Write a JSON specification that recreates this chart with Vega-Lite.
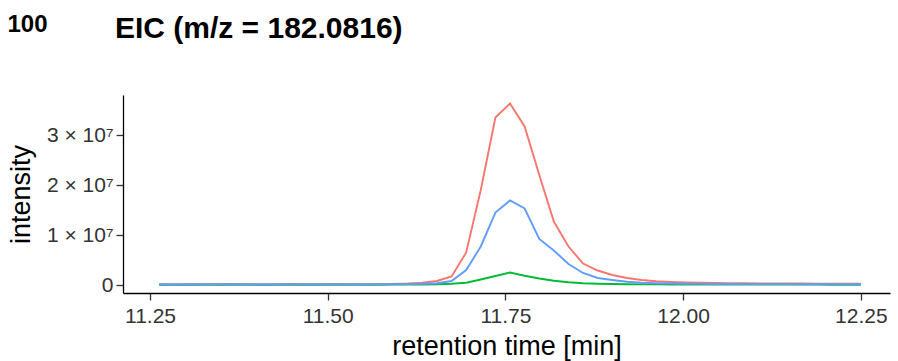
{
  "$schema": "https://vega.github.io/schema/vega-lite/v6.json",
  "width": 767,
  "height": 198,
  "autosize": {"type": "none"},
  "padding": {"left": 123, "top": 95, "right": 8, "bottom": 68},
  "background": "white",
  "title": {
    "text": "100",
    "subtitle": "\u200b\u2003\u2003\u2003\u2002\u200aEIC (m/z = 182.0816)",
    "anchor": "start",
    "frame": "bounds",
    "font": "Liberation Sans",
    "fontSize": 24,
    "fontWeight": "bold",
    "color": "black",
    "subtitleFont": "Liberation Sans",
    "subtitleFontSize": 30,
    "subtitleFontWeight": "bold",
    "subtitleColor": "black",
    "subtitlePadding": -23,
    "offset": 51
  },
  "data": {
    "values": [
      {"t": 11.263, "s": "s1", "v": 150000}, {"t": 11.2836, "s": "s1", "v": 120000}, {"t": 11.3041, "s": "s1", "v": 180000}, {"t": 11.3247, "s": "s1", "v": 160000}, {"t": 11.3452, "s": "s1", "v": 140000}, {"t": 11.3658, "s": "s1", "v": 200000}, {"t": 11.3864, "s": "s1", "v": 170000}, {"t": 11.4069, "s": "s1", "v": 130000}, {"t": 11.4275, "s": "s1", "v": 150000}, {"t": 11.448, "s": "s1", "v": 190000}, {"t": 11.4686, "s": "s1", "v": 160000}, {"t": 11.4892, "s": "s1", "v": 140000}, {"t": 11.5097, "s": "s1", "v": 210000}, {"t": 11.5303, "s": "s1", "v": 180000}, {"t": 11.5508, "s": "s1", "v": 150000}, {"t": 11.5714, "s": "s1", "v": 170000}, {"t": 11.592, "s": "s1", "v": 230000}, {"t": 11.6125, "s": "s1", "v": 300000}, {"t": 11.6331, "s": "s1", "v": 450000}, {"t": 11.6536, "s": "s1", "v": 800000}, {"t": 11.6742, "s": "s1", "v": 1700000}, {"t": 11.6948, "s": "s1", "v": 6500000}, {"t": 11.7153, "s": "s1", "v": 19000000}, {"t": 11.7359, "s": "s1", "v": 33500000}, {"t": 11.7564, "s": "s1", "v": 36300000}, {"t": 11.777, "s": "s1", "v": 31700000}, {"t": 11.7976, "s": "s1", "v": 22000000}, {"t": 11.8181, "s": "s1", "v": 12700000}, {"t": 11.8387, "s": "s1", "v": 7700000}, {"t": 11.8592, "s": "s1", "v": 4300000}, {"t": 11.8798, "s": "s1", "v": 2900000}, {"t": 11.9004, "s": "s1", "v": 2000000}, {"t": 11.9209, "s": "s1", "v": 1400000}, {"t": 11.9415, "s": "s1", "v": 1000000}, {"t": 11.962, "s": "s1", "v": 750000}, {"t": 11.9826, "s": "s1", "v": 600000}, {"t": 12.0032, "s": "s1", "v": 500000}, {"t": 12.0237, "s": "s1", "v": 450000}, {"t": 12.0443, "s": "s1", "v": 400000}, {"t": 12.0648, "s": "s1", "v": 380000}, {"t": 12.0854, "s": "s1", "v": 350000}, {"t": 12.106, "s": "s1", "v": 330000}, {"t": 12.1265, "s": "s1", "v": 320000}, {"t": 12.1471, "s": "s1", "v": 300000}, {"t": 12.1676, "s": "s1", "v": 300000}, {"t": 12.1882, "s": "s1", "v": 280000}, {"t": 12.2088, "s": "s1", "v": 280000}, {"t": 12.2293, "s": "s1", "v": 270000}, {"t": 12.2499, "s": "s1", "v": 260000},
      {"t": 11.263, "s": "s2", "v": 50000}, {"t": 11.2836, "s": "s2", "v": 40000}, {"t": 11.3041, "s": "s2", "v": 60000}, {"t": 11.3247, "s": "s2", "v": 50000}, {"t": 11.3452, "s": "s2", "v": 50000}, {"t": 11.3658, "s": "s2", "v": 60000}, {"t": 11.3864, "s": "s2", "v": 40000}, {"t": 11.4069, "s": "s2", "v": 50000}, {"t": 11.4275, "s": "s2", "v": 60000}, {"t": 11.448, "s": "s2", "v": 50000}, {"t": 11.4686, "s": "s2", "v": 40000}, {"t": 11.4892, "s": "s2", "v": 50000}, {"t": 11.5097, "s": "s2", "v": 60000}, {"t": 11.5303, "s": "s2", "v": 50000}, {"t": 11.5508, "s": "s2", "v": 50000}, {"t": 11.5714, "s": "s2", "v": 60000}, {"t": 11.592, "s": "s2", "v": 70000}, {"t": 11.6125, "s": "s2", "v": 80000}, {"t": 11.6331, "s": "s2", "v": 100000}, {"t": 11.6536, "s": "s2", "v": 150000}, {"t": 11.6742, "s": "s2", "v": 250000}, {"t": 11.6948, "s": "s2", "v": 450000}, {"t": 11.7153, "s": "s2", "v": 1100000}, {"t": 11.7359, "s": "s2", "v": 1800000}, {"t": 11.7564, "s": "s2", "v": 2500000}, {"t": 11.777, "s": "s2", "v": 1850000}, {"t": 11.7976, "s": "s2", "v": 1300000}, {"t": 11.8181, "s": "s2", "v": 850000}, {"t": 11.8387, "s": "s2", "v": 550000}, {"t": 11.8592, "s": "s2", "v": 350000}, {"t": 11.8798, "s": "s2", "v": 250000}, {"t": 11.9004, "s": "s2", "v": 200000}, {"t": 11.9209, "s": "s2", "v": 150000}, {"t": 11.9415, "s": "s2", "v": 130000}, {"t": 11.962, "s": "s2", "v": 120000}, {"t": 11.9826, "s": "s2", "v": 110000}, {"t": 12.0032, "s": "s2", "v": 100000}, {"t": 12.0237, "s": "s2", "v": 100000}, {"t": 12.0443, "s": "s2", "v": 90000}, {"t": 12.0648, "s": "s2", "v": 90000}, {"t": 12.0854, "s": "s2", "v": 80000}, {"t": 12.106, "s": "s2", "v": 80000}, {"t": 12.1265, "s": "s2", "v": 80000}, {"t": 12.1471, "s": "s2", "v": 70000}, {"t": 12.1676, "s": "s2", "v": 70000}, {"t": 12.1882, "s": "s2", "v": 70000}, {"t": 12.2088, "s": "s2", "v": 60000}, {"t": 12.2293, "s": "s2", "v": 60000}, {"t": 12.2499, "s": "s2", "v": 60000},
      {"t": 11.263, "s": "s3", "v": 100000}, {"t": 11.2836, "s": "s3", "v": 90000}, {"t": 11.3041, "s": "s3", "v": 110000}, {"t": 11.3247, "s": "s3", "v": 100000}, {"t": 11.3452, "s": "s3", "v": 120000}, {"t": 11.3658, "s": "s3", "v": 100000}, {"t": 11.3864, "s": "s3", "v": 90000}, {"t": 11.4069, "s": "s3", "v": 110000}, {"t": 11.4275, "s": "s3", "v": 100000}, {"t": 11.448, "s": "s3", "v": 130000}, {"t": 11.4686, "s": "s3", "v": 100000}, {"t": 11.4892, "s": "s3", "v": 90000}, {"t": 11.5097, "s": "s3", "v": 120000}, {"t": 11.5303, "s": "s3", "v": 110000}, {"t": 11.5508, "s": "s3", "v": 100000}, {"t": 11.5714, "s": "s3", "v": 120000}, {"t": 11.592, "s": "s3", "v": 140000}, {"t": 11.6125, "s": "s3", "v": 180000}, {"t": 11.6331, "s": "s3", "v": 250000}, {"t": 11.6536, "s": "s3", "v": 350000}, {"t": 11.6742, "s": "s3", "v": 800000}, {"t": 11.6948, "s": "s3", "v": 3000000}, {"t": 11.7153, "s": "s3", "v": 7700000}, {"t": 11.7359, "s": "s3", "v": 14500000}, {"t": 11.7564, "s": "s3", "v": 16900000}, {"t": 11.777, "s": "s3", "v": 15300000}, {"t": 11.7976, "s": "s3", "v": 9200000}, {"t": 11.8181, "s": "s3", "v": 6900000}, {"t": 11.8387, "s": "s3", "v": 4200000}, {"t": 11.8592, "s": "s3", "v": 2400000}, {"t": 11.8798, "s": "s3", "v": 1400000}, {"t": 11.9004, "s": "s3", "v": 1000000}, {"t": 11.9209, "s": "s3", "v": 650000}, {"t": 11.9415, "s": "s3", "v": 450000}, {"t": 11.962, "s": "s3", "v": 350000}, {"t": 11.9826, "s": "s3", "v": 300000}, {"t": 12.0032, "s": "s3", "v": 250000}, {"t": 12.0237, "s": "s3", "v": 220000}, {"t": 12.0443, "s": "s3", "v": 200000}, {"t": 12.0648, "s": "s3", "v": 200000}, {"t": 12.0854, "s": "s3", "v": 180000}, {"t": 12.106, "s": "s3", "v": 180000}, {"t": 12.1265, "s": "s3", "v": 170000}, {"t": 12.1471, "s": "s3", "v": 170000}, {"t": 12.1676, "s": "s3", "v": 160000}, {"t": 12.1882, "s": "s3", "v": 160000}, {"t": 12.2088, "s": "s3", "v": 150000}, {"t": 12.2293, "s": "s3", "v": 150000}, {"t": 12.2499, "s": "s3", "v": 150000}
    ]
  },
  "mark": {"type": "line", "strokeWidth": 1.9},
  "encoding": {
    "x": {
      "field": "t",
      "type": "quantitative",
      "scale": {"domain": [11.212, 12.291], "nice": false, "zero": false},
      "axis": {
        "values": [11.25, 11.5, 11.75, 12, 12.25],
        "format": ".2f",
        "title": "retention time [min]",
        "labelPadding": 5,
        "titlePadding": 7
      }
    },
    "y": {
      "field": "v",
      "type": "quantitative",
      "scale": {"domain": [-1600000, 38000000], "nice": false, "zero": false},
      "axis": {
        "values": [0, 10000000, 20000000, 30000000],
        "labelExpr": "datum.value == 0 ? '0' : format(datum.value / 10000000, 'd') + ' × 10⁷'",
        "title": "intensity",
        "labelPadding": 3,
        "titlePadding": 11
      }
    },
    "color": {
      "field": "s",
      "type": "nominal",
      "scale": {"domain": ["s1", "s2", "s3"], "range": ["#F8766D", "#00BA38", "#619CFF"]},
      "legend": null
    }
  },
  "config": {
    "view": {"stroke": null},
    "axis": {
      "grid": false,
      "domainColor": "black",
      "domainWidth": 1.3,
      "tickColor": "#333333",
      "tickWidth": 1.3,
      "tickSize": 7,
      "labelFont": "Liberation Sans",
      "labelFontSize": 21,
      "labelColor": "#333333",
      "titleFont": "Liberation Sans",
      "titleFontSize": 27,
      "titleFontWeight": "normal",
      "titleColor": "black"
    }
  }
}
